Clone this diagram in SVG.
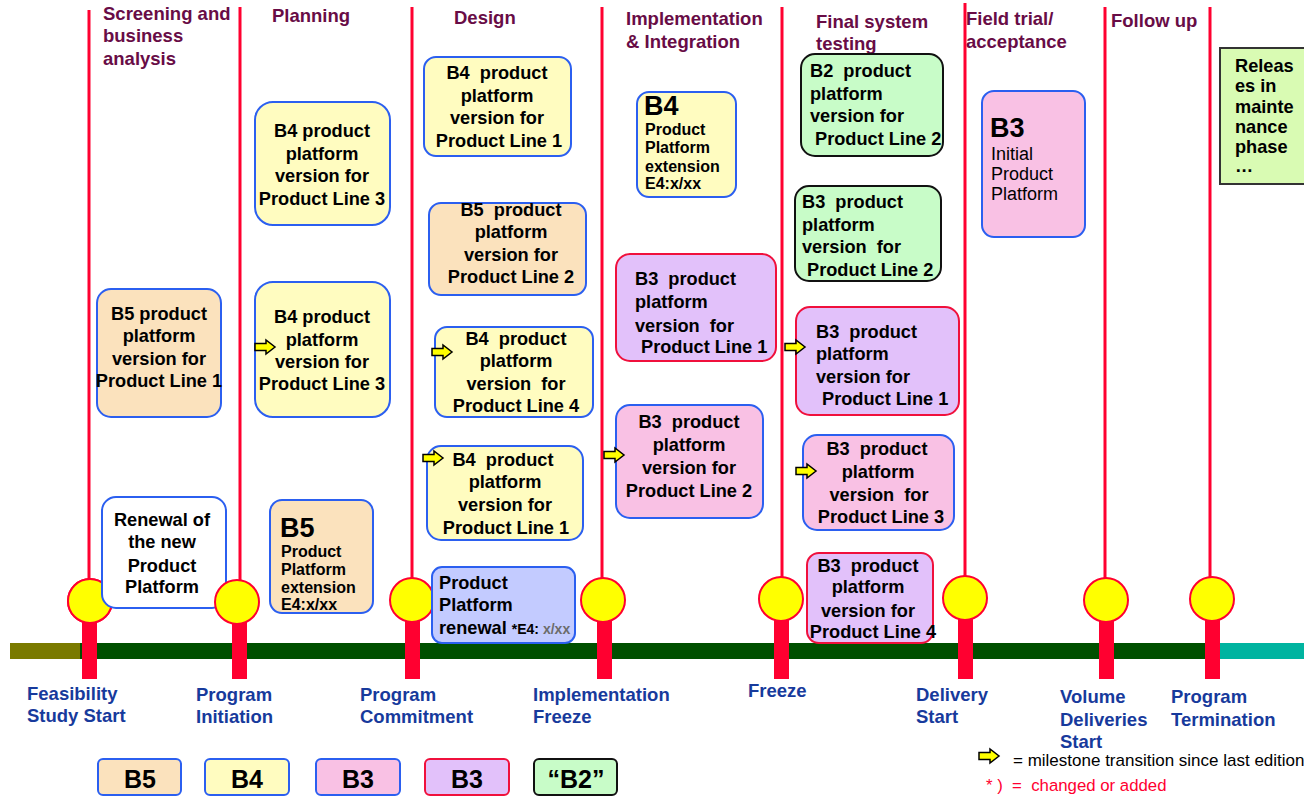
<svg xmlns="http://www.w3.org/2000/svg" width="1304" height="797" viewBox="0 0 1304 797">
<style>
text{font-family:"Liberation Sans",Arial,sans-serif}
.hd{font-size:18.5px;font-weight:bold;fill:#680c46}
.ms{font-size:18.5px;font-weight:bold;fill:#173a9c}
.bt{font-size:18.2px;font-weight:bold;fill:#000}
.sm{font-size:16px;font-weight:bold;fill:#000}
.big{font-size:27px;font-weight:bold;fill:#000}
.c{text-anchor:middle}
.box{stroke-width:2}
.yel{fill:#fffcc0;stroke:#2b5ff0}
.pch{fill:#fbe2bd;stroke:#2b5ff0}
.pnk{fill:#f9c1e4;stroke:#2b5ff0}
.pur{fill:#e2c1fa;stroke:#f0103c}
.grn{fill:#c8fcc8;stroke:#111}
.wht{fill:#fff;stroke:#2b5ff0}
.blu{fill:#c3cbff;stroke:#2b5ff0}
.vl{stroke:#ff0030;stroke-width:3}
.post{fill:#ff0030}
.mc{fill:#ffff00;stroke:#ff0030;stroke-width:2}
.lg{font-size:25px;font-weight:bold;fill:#000;text-anchor:middle}
</style>
<defs>
<path id="arr" d="M0,-3.5 H11 V-7 L20,0 L11,7 V3.5 H0 Z" fill="#ffff00" stroke="#000" stroke-width="1.5"/>
</defs>
<rect width="1304" height="797" fill="#fff"/>

<g id="connectors">
<line class="vl" x1="89" y1="10" x2="89" y2="590"/>
<line class="vl" x1="240" y1="7" x2="240" y2="590"/>
<line class="vl" x1="412" y1="7" x2="412" y2="590" stroke-width="5"/>
<line class="vl" x1="602" y1="7" x2="602" y2="590"/>
<line class="vl" x1="782" y1="7" x2="782" y2="590"/>
<line class="vl" x1="965" y1="3" x2="965" y2="590"/>
<line class="vl" x1="1105" y1="7" x2="1105" y2="590"/>
<line class="vl" x1="1210" y1="7" x2="1210" y2="590"/>
<rect x="10" y="643" width="70" height="16" fill="#7a7a00"/>
<rect x="80" y="643" width="1140" height="16" fill="#005000"/>
<rect x="1220" y="643" width="84" height="16" fill="#00b4a0"/>
<rect class="post" x="82" y="600" width="15" height="79"/>
<rect class="post" x="232" y="600" width="15" height="79"/>
<rect class="post" x="405" y="600" width="15" height="79"/>
<rect class="post" x="597" y="600" width="15" height="79"/>
<rect class="post" x="774" y="600" width="15" height="79"/>
<rect class="post" x="958" y="600" width="15" height="79"/>
<rect class="post" x="1099" y="600" width="15" height="79"/>
<rect class="post" x="1205" y="600" width="15" height="79"/>
<circle class="mc" cx="90" cy="601" r="22"/>
<circle class="mc" cx="412" cy="600" r="22"/>
<circle class="mc" cx="603" cy="600" r="22"/>
<circle class="mc" cx="781" cy="599" r="22"/>
<circle class="mc" cx="965" cy="598" r="22"/>
<circle class="mc" cx="1106" cy="600" r="22"/>
<circle class="mc" cx="1212" cy="599" r="22"/>
</g>

<g id="phases">
<text class="hd" x="103" y="20">Screening and</text>
<text class="hd" x="103" y="42">business</text>
<text class="hd" x="103" y="65">analysis</text>
<text class="hd" x="272" y="22">Planning</text>
<text class="hd" x="454" y="24">Design</text>
<text class="hd" x="626" y="25">Implementation</text>
<text class="hd" x="626" y="48">&amp; Integration</text>
<text class="hd" x="816" y="28">Final system</text>
<text class="hd" x="816" y="50">testing</text>
<text class="hd" x="966" y="25">Field trial/</text>
<text class="hd" x="966" y="48">acceptance</text>
<text class="hd" x="1111" y="27">Follow up</text>
</g>

<g id="milestones">
<text class="ms" x="27" y="700">Feasibility</text>
<text class="ms" x="27" y="722">Study Start</text>
<text class="ms" x="196" y="701">Program</text>
<text class="ms" x="196" y="723">Initiation</text>
<text class="ms" x="360" y="701">Program</text>
<text class="ms" x="360" y="723">Commitment</text>
<text class="ms" x="533" y="701">Implementation</text>
<text class="ms" x="533" y="723">Freeze</text>
<text class="ms" x="748" y="697">Freeze</text>
<text class="ms" x="916" y="701">Delivery</text>
<text class="ms" x="916" y="723">Start</text>
<text class="ms" x="1060" y="703">Volume</text>
<text class="ms" x="1060" y="726">Deliveries</text>
<text class="ms" x="1060" y="748">Start</text>
<text class="ms" x="1171" y="703">Program</text>
<text class="ms" x="1171" y="726">Termination</text>
</g>

<g id="n-b5-pl1">
<rect class="box pch" x="97" y="289" width="124" height="128" rx="14"/>
<text class="bt c" x="159" y="320">B5 product</text>
<text class="bt c" x="159" y="342">platform</text>
<text class="bt c" x="159" y="365">version for</text>
<text class="bt c" x="159" y="387">Product Line 1</text>
</g>

<circle class="mc" cx="90" cy="601" r="22"/>
<g id="n-renewal">
<rect class="box wht" x="102" y="497" width="124" height="111" rx="14"/>
<text class="bt c" x="162" y="526">Renewal of</text>
<text class="bt c" x="162" y="548">the new</text>
<text class="bt c" x="162" y="572">Product</text>
<text class="bt c" x="162" y="593">Platform</text>
</g>
<circle class="mc" cx="237" cy="602" r="22"/>

<g id="n-b4-pl3-a">
<rect class="box yel" x="255" y="102" width="135" height="123" rx="18"/>
<text class="bt c" x="322" y="137">B4 product</text>
<text class="bt c" x="322" y="160">platform</text>
<text class="bt c" x="322" y="182">version for</text>
<text class="bt c" x="322" y="205">Product Line 3</text>
</g>

<g id="n-b4-pl3-b">
<rect class="box yel" x="255" y="282" width="135" height="135" rx="18"/>
<text class="bt c" x="322" y="323">B4 product</text>
<text class="bt c" x="322" y="346">platform</text>
<text class="bt c" x="322" y="368">version for</text>
<text class="bt c" x="322" y="390">Product Line 3</text>
<use href="#arr" x="255" y="347"/>
</g>

<g id="n-b5-ext">
<rect class="box pch" x="270" y="500" width="103" height="113" rx="12"/>
<text class="big" x="280" y="537">B5</text>
<text class="sm" x="281" y="557">Product</text>
<text class="sm" x="281" y="575">Platform</text>
<text class="sm" x="281" y="593">extension</text>
<text class="sm" x="281" y="610">E4:x/xx</text>
</g>

<g id="n-b4-pl1-a">
<rect class="box yel" x="424" y="57" width="147" height="99" rx="12"/>
<text class="bt c" x="497" y="79">B4&#160; product</text>
<text class="bt c" x="497" y="102">platform</text>
<text class="bt c" x="497" y="124">version for</text>
<text class="bt c" x="499" y="147">Product Line 1</text>
</g>

<g id="n-b5-pl2">
<rect class="box pch" x="429" y="203" width="157" height="92" rx="12"/>
<text class="bt c" x="511" y="216">B5&#160; product</text>
<text class="bt c" x="511" y="238">platform</text>
<text class="bt c" x="511" y="261">version for</text>
<text class="bt c" x="511" y="283">Product Line 2</text>
</g>

<g id="n-b4-pl4">
<rect class="box yel" x="435" y="327" width="158" height="90" rx="12"/>
<text class="bt c" x="516" y="345">B4&#160; product</text>
<text class="bt c" x="516" y="367">platform</text>
<text class="bt c" x="516" y="390">version&#160; for</text>
<text class="bt c" x="516" y="412">Product Line 4</text>
<use href="#arr" x="432" y="352"/>
</g>

<g id="n-b4-pl1-b">
<rect class="box yel" x="427" y="446" width="156" height="94" rx="14"/>
<text class="bt c" x="503" y="466">B4&#160; product</text>
<text class="bt c" x="505" y="488">platform</text>
<text class="bt c" x="505" y="511">version for</text>
<text class="bt c" x="506" y="534">Product Line 1</text>
<use href="#arr" x="423" y="458"/>
</g>

<g id="n-renewal-pp">
<rect class="box blu" x="432" y="567" width="143" height="76" rx="10"/>
<text class="bt" x="439" y="589">Product</text>
<text class="bt" x="439" y="611">Platform</text>
<text class="bt" x="439" y="634">renewal <tspan font-size="14">*E4: </tspan><tspan font-size="14" fill="#6b6b6b">x/xx</tspan></text>
</g>

<g id="n-b4-ext">
<rect class="box yel" x="637" y="92" width="99" height="105" rx="12"/>
<text class="big" x="644" y="115">B4</text>
<text class="sm" x="645" y="135">Product</text>
<text class="sm" x="645" y="153">Platform</text>
<text class="sm" x="645" y="172">extension</text>
<text class="sm" x="645" y="189">E4:x/xx</text>
</g>

<g id="n-b3-pl1-a">
<rect class="box pur" x="616" y="254" width="160" height="107" rx="14"/>
<text class="bt" x="635" y="285">B3&#160; product</text>
<text class="bt" x="635" y="308">platform</text>
<text class="bt" x="635" y="332">version&#160; for</text>
<text class="bt" x="641" y="353">Product Line 1</text>
</g>

<g id="n-b3-pl2-a">
<rect class="box pnk" x="616" y="405" width="147" height="113" rx="14"/>
<text class="bt c" x="689" y="428">B3&#160; product</text>
<text class="bt c" x="689" y="451">platform</text>
<text class="bt c" x="689" y="474">version for</text>
<text class="bt c" x="689" y="497">Product Line 2</text>
<use href="#arr" x="604" y="455"/>
</g>

<g id="n-b2-pl2">
<rect class="box grn" x="801" y="54" width="142" height="102" rx="14"/>
<text class="bt" x="810" y="77">B2&#160; product</text>
<text class="bt" x="810" y="100">platform</text>
<text class="bt" x="810" y="122">version for</text>
<text class="bt" x="815" y="145">Product Line 2</text>
</g>

<g id="n-b3-pl2-b">
<rect class="box grn" x="795" y="186" width="146" height="95" rx="14"/>
<text class="bt" x="802" y="208">B3&#160; product</text>
<text class="bt" x="802" y="231">platform</text>
<text class="bt" x="802" y="253">version&#160; for</text>
<text class="bt" x="807" y="276">Product Line 2</text>
</g>

<g id="n-b3-pl1-b">
<rect class="box pur" x="796" y="307" width="163" height="108" rx="14"/>
<text class="bt" x="816" y="338">B3&#160; product</text>
<text class="bt" x="816" y="360">platform</text>
<text class="bt" x="816" y="383">version for</text>
<text class="bt" x="822" y="405">Product Line 1</text>
<use href="#arr" x="785" y="347"/>
</g>

<g id="n-b3-pl3">
<rect class="box pnk" x="803" y="435" width="151" height="95" rx="14"/>
<text class="bt c" x="877" y="455">B3&#160; product</text>
<text class="bt c" x="878" y="478">platform</text>
<text class="bt c" x="879" y="501">version&#160; for</text>
<text class="bt c" x="881" y="523">Product Line 3</text>
<use href="#arr" x="796" y="471"/>
</g>

<g id="n-b3-pl4">
<rect class="box pur" x="807" y="553" width="126" height="90" rx="12"/>
<text class="bt c" x="868" y="572">B3&#160; product</text>
<text class="bt c" x="868" y="593">platform</text>
<text class="bt c" x="868" y="617">version for</text>
<text class="bt c" x="873" y="638">Product Line 4</text>
</g>

<g id="n-b3-initial">
<rect class="box pnk" x="982" y="91" width="103" height="146" rx="12"/>
<text class="big" x="990" y="137">B3</text>
<text x="991" y="160" font-size="18">Initial</text>
<text x="991" y="180" font-size="18">Product</text>
<text x="991" y="200" font-size="18">Platform</text>
</g>

<g id="n-releases">
<rect x="1220" y="48" width="90" height="136" fill="#d9fbb3" stroke="#333" stroke-width="2"/>
<text class="bt" x="1235" y="72" font-size="18">Releas</text>
<text class="bt" x="1235" y="92" font-size="18">es in</text>
<text class="bt" x="1235" y="113" font-size="18">mainte</text>
<text class="bt" x="1235" y="133" font-size="18">nance</text>
<text class="bt" x="1235" y="153" font-size="18">phase</text>
<text class="bt" x="1235" y="172" font-size="18">…</text>
</g>

<g id="legend">
<rect class="box pch" x="98" y="759" width="83" height="36" rx="5"/>
<text class="lg" x="140" y="788">B5</text>
<rect class="box yel" x="205" y="759" width="84" height="36" rx="5"/>
<text class="lg" x="247" y="788">B4</text>
<rect class="box pnk" x="316" y="759" width="84" height="36" rx="5"/>
<text class="lg" x="358" y="788">B3</text>
<rect class="box pur" x="425" y="759" width="84" height="36" rx="5"/>
<text class="lg" x="467" y="788">B3</text>
<rect class="box grn" x="534" y="759" width="83" height="36" rx="5"/>
<text class="lg" x="576" y="788">“B2”</text>
<use href="#arr" x="979" y="756"/>
<text x="1013" y="766" font-size="17" fill="#000">= milestone transition since last edition</text>
<text x="986" y="791" font-size="16.8" fill="#ff0030">* )&#160; =&#160; changed or added</text>
</g>
</svg>
